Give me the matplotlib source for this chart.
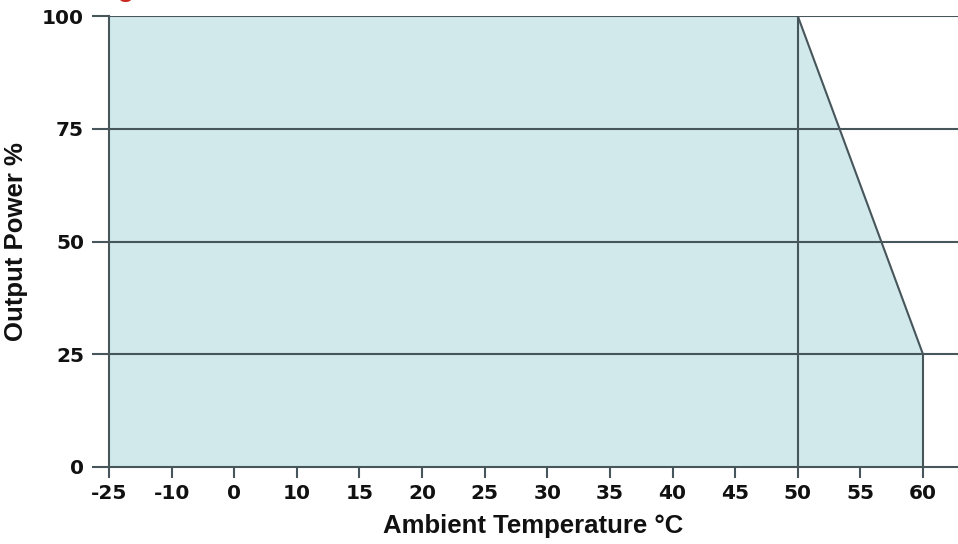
import matplotlib
matplotlib.use("Agg")
import matplotlib.pyplot as plt
from matplotlib.font_manager import FontProperties

# x axis is categorical: evenly spaced tick labels
temp_labels = ["-25", "-10", "0", "10", "15", "20", "25", "30",
               "35", "40", "45", "50", "55", "60"]
power_ticks = [0, 25, 50, 75, 100]

# derating curve (temperature, output power %)
curve_temp = ["-25", "50", "60", "60"]
curve_power = [100, 100, 25, 0]

LINE = "#46565b"
FILL = "#d1e9eb"

fig = plt.figure(figsize=(9.58, 5.44), dpi=100)
ax = fig.add_axes([109 / 958, 1 - 467 / 544, 1 - 109 / 958, (467 - 16) / 544])

pos = {lab: i for i, lab in enumerate(temp_labels)}
xs = [pos[t] for t in curve_temp]
poly_x = xs + [pos["-25"]]
poly_y = curve_power + [0]
ax.fill(poly_x, poly_y, color=FILL, lw=0, zorder=1)
ax.plot(xs[1:], curve_power[1:], color=LINE, lw=1.5, zorder=3)
ax.plot([pos["50"], pos["50"]], [0, 100], color=LINE, lw=1.5, zorder=3)

for y in power_ticks[1:]:
    ax.axhline(y, color=LINE, lw=1.5, zorder=2)

ax.set_xlim(0, (958 - 109) / ((923 - 109) / 13))
ax.set_ylim(0, 100)
ax.set_xticks(range(len(temp_labels)))
ax.set_xticklabels(temp_labels)
ax.set_yticks(power_ticks)

for s in ["top", "right"]:
    ax.spines[s].set_visible(False)
for s in ["left", "bottom"]:
    ax.spines[s].set_color(LINE)
    ax.spines[s].set_linewidth(1.5)
    ax.spines[s].set_zorder(4)

tick_font = FontProperties(family="DejaVu Sans", weight="bold", size=14.5)
ax.tick_params(axis="x", length=8, width=1.5, color=LINE, pad=4)
ax.tick_params(axis="y", length=12, width=1.5, color=LINE, pad=6)
for lab in ax.get_xticklabels() + ax.get_yticklabels():
    lab.set_fontproperties(tick_font)
    lab.set_color("#111111")

label_font = dict(family="Liberation Sans", weight="bold", size=18.5, color="#111111")
ax.set_xlabel("Ambient Temperature °C", labelpad=8, **label_font)
ax.set_ylabel("Output Power %", labelpad=10, **label_font)

# red title, cut off by the top edge in the source image
fig.text(22 / 958, 1 + 3.5 / 544, "Derating Curve", color="#c8281e",
         family="Liberation Sans", weight="bold", size=20, va="baseline")

fig.savefig("out.png", dpi=100)
